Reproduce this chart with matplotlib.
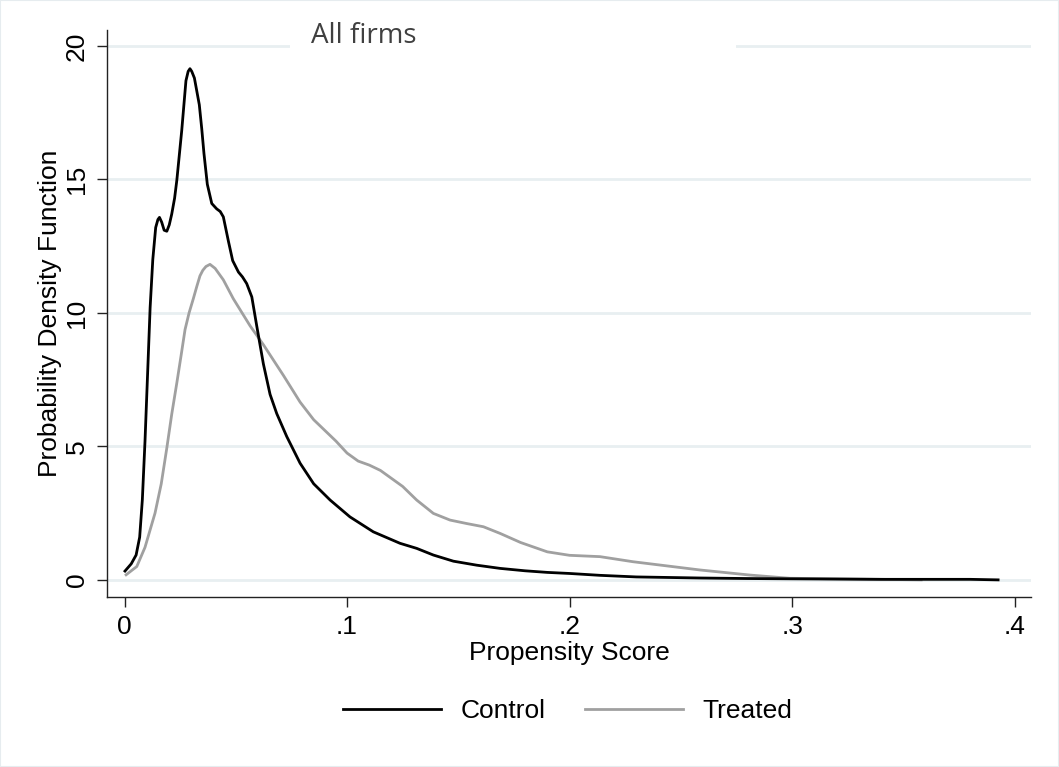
import matplotlib
matplotlib.use("Agg")
import matplotlib.pyplot as plt
from matplotlib.patches import Rectangle

# Control (propensity score, density)
control_x = [0.0002, 0.003, 0.0052, 0.0068, 0.0080, 0.0092, 0.0104, 0.0115, 0.0127, 0.0140,
             0.0150, 0.0157, 0.0167, 0.0178, 0.0190, 0.0201, 0.0212, 0.0225, 0.0235, 0.0257,
             0.0276, 0.0286, 0.0294, 0.0302, 0.0314, 0.0325, 0.0336, 0.0347, 0.0357, 0.0372,
             0.0392, 0.0414, 0.0430, 0.0444, 0.0467, 0.0486, 0.0512, 0.0530, 0.0549, 0.0572,
             0.0594, 0.0624, 0.0654, 0.0684, 0.0729, 0.0789, 0.085, 0.0924, 0.1013, 0.1118,
             0.1238, 0.1313, 0.1388, 0.1478, 0.1583, 0.1688, 0.18, 0.19, 0.2, 0.2137,
             0.23, 0.2587, 0.28, 0.299, 0.32, 0.34, 0.36, 0.38, 0.3926]
control_y = [0.33, 0.6, 0.93, 1.6, 3.0, 5.2, 7.8, 10.2, 12.0, 13.2,
             13.5, 13.58, 13.4, 13.1, 13.06, 13.3, 13.7, 14.3, 14.97, 16.83,
             18.7, 19.05, 19.15, 19.05, 18.8, 18.3, 17.8, 16.9, 15.97, 14.82,
             14.1, 13.9, 13.8, 13.6, 12.68, 11.96, 11.53, 11.35, 11.1, 10.6,
             9.52, 8.09, 6.95, 6.23, 5.37, 4.37, 3.6, 2.99, 2.36, 1.8,
             1.37, 1.18, 0.93, 0.70, 0.55, 0.43, 0.34, 0.28, 0.24, 0.17,
             0.11, 0.07, 0.05, 0.04, 0.03, 0.02, 0.02, 0.02, 0.0]

# Treated
treated_x = [0.0007, 0.0055, 0.0092, 0.0137, 0.0165, 0.019, 0.0212, 0.0235, 0.0255, 0.0272,
             0.0290, 0.0309, 0.0325, 0.0339, 0.0352, 0.0366, 0.0384, 0.0407, 0.0444, 0.0489,
             0.0564, 0.0624, 0.0714, 0.0789, 0.085, 0.09, 0.095, 0.1, 0.105, 0.11,
             0.115, 0.12, 0.125, 0.1313, 0.1388, 0.1463, 0.1538, 0.1613, 0.1688, 0.178,
             0.19, 0.2, 0.2137, 0.2285, 0.2587, 0.2811, 0.299, 0.32, 0.34, 0.358]
treated_y = [0.19, 0.5, 1.22, 2.5, 3.6, 4.94, 6.2, 7.38, 8.45, 9.38,
             10.0, 10.53, 11.0, 11.39, 11.6, 11.74, 11.82, 11.67, 11.24, 10.53,
             9.52, 8.81, 7.66, 6.66, 6.0, 5.6, 5.2, 4.75, 4.45, 4.3,
             4.1, 3.8, 3.5, 2.99, 2.49, 2.24, 2.11, 1.99, 1.74, 1.4,
             1.05, 0.92, 0.87, 0.68, 0.37, 0.18, 0.06, 0.04, 0.02, 0.0]

xticks = [0, 0.1, 0.2, 0.3, 0.4]
xtick_labels = ["0", ".1", ".2", ".3", ".4"]
yticks = [0, 5, 10, 15, 20]

plt.rcParams['font.family'] = ['Liberation Sans', 'DejaVu Sans']
fs = 19

fig = plt.figure(figsize=(10.59, 7.67), dpi=100)
ax = fig.add_axes([0.101, 0.2217, 0.8726, 0.7392])

for yv in yticks:
    ax.axhline(yv, color='#e8eff1', lw=2.0, zorder=0)

ax.plot(control_x, control_y, color='black', lw=2.0, label='Control', zorder=3)
ax.plot(treated_x, treated_y, color='#a0a0a0', lw=2.0, label='Treated', zorder=2)

ax.set_xlim(-0.0079, 0.4074)
ax.set_ylim(-0.64, 20.6)
ax.set_xticks(xticks)
ax.set_xticklabels(xtick_labels)
ax.set_yticks(yticks)
ax.set_yticklabels([str(v) for v in yticks], rotation=90, va='center')
ax.tick_params(direction='out', length=7.2, width=1, color='#222222',
               labelsize=fs, pad=6)
ax.tick_params(axis='y', pad=6)

for s in ['top', 'right']:
    ax.spines[s].set_visible(False)
for s in ['left', 'bottom']:
    ax.spines[s].set_color('#222222')
    ax.spines[s].set_linewidth(1)

ax.set_xlabel('Propensity Score', fontsize=fs, labelpad=1)
ax.set_ylabel('Probability Density Function', fontsize=fs, labelpad=2)

# title box over the top gridline
fig.patches.append(Rectangle((290 / 1059, 1 - 62 / 767), 446 / 1059, 44 / 767,
                             transform=fig.transFigure, facecolor='white',
                             edgecolor='none', zorder=5))
fig.text(311 / 1059, 1 - 43 / 767, 'All firms', fontsize=20, color='#404040',
         family=['Open Sans', 'DejaVu Sans'], ha='left', va='baseline', zorder=6)

fig.legend(loc='center', bbox_to_anchor=(568 / 1059, 1 - 711 / 767), ncol=2,
           frameon=False, fontsize=fs, handlelength=3.7, handletextpad=0.75,
           columnspacing=1.5)

# faint outer border
fig.patches.append(Rectangle((0, 0), 1, 1, transform=fig.transFigure,
                             facecolor='none', edgecolor='#e6ecef', lw=1.5))

fig.savefig('out.png', dpi=100)
